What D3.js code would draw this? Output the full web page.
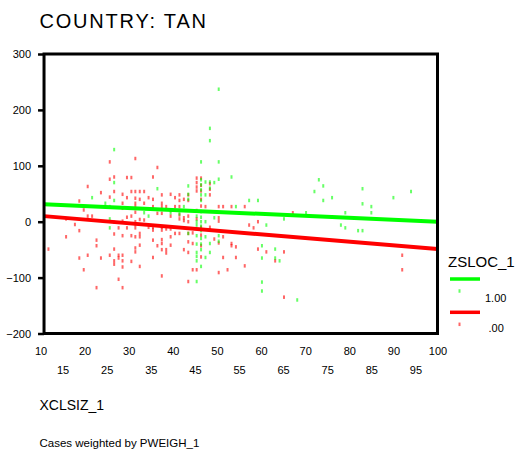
<!DOCTYPE html>
<meta charset="utf-8">
<style>
    body { margin: 0; background: #fff; }
    svg { display: block; font-family: Arial, "Liberation Sans", sans-serif; }
    .axis text { font-size: 11px; fill: #000; }
    .axis .domain { display: none; }
    .yaxis line { stroke: #000; stroke-width: 2.5px; }
</style>
<body>
<svg id="chart" width="518" height="452"></svg>
</body>
<script src="https://d3js.org/d3.v7.min.js"></script>
<script>

    // ZSLOC_1 = 1.00 (green) and .00 (red), [XCLSIZ_1, residual]
    var greenPoints = [
        [21.7, 43], [24.7, 33], [25.7, 27], [25.7, 5], [25.7, -11],
        [26.7, 129], [26.7, 70], [26.7, 38], [33.5, 16], [34.5, 10],
        [36.5, 59], [39.5, 16], [41.5, 14], [42.5, 27],
        [43.5, 64], [43.5, 49], [43.5, 40], [43.5, -21],
        [45.4, 10], [45.4, 0], [45.4, -6], [45.4, -25], [45.4, -40], [45.4, -55],
        [45.4, -62], [45.4, -70], [45.4, -107],
        [46.4, 107], [46.4, 75], [46.4, 66], [46.4, 57], [46.4, 48], [46.4, 38],
        [46.4, 18], [46.4, 8], [46.4, 0], [46.4, -8], [46.4, -16], [46.4, -30],
        [46.4, -40], [46.4, -50], [46.4, -80],
        [47.4, 71], [47.4, 48], [47.4, 0], [47.4, -27], [47.4, -64],
        [48.4, 167], [48.4, 145], [48.4, 71], [48.4, 60], [48.4, -39], [48.4, -55],
        [49.4, 70], [49.4, 7],
        [50.4, 237], [50.4, 107], [50.4, 76], [50.4, -25], [50.4, -35],
        [53.3, 80], [54.3, 27], [57.3, 38], [59.3, 38],
        [60.2, -43], [60.2, -65], [60.2, -108], [60.2, -124], [61.2, -6],
        [63.2, -49], [63.2, -65], [64.2, -70], [65.2, 5], [68.2, -140],
        [70.2, 16], [72.1, 54], [73.1, 75], [74.1, 64], [74.1, 38], [76.1, 43],
        [78.1, -6], [79.1, 16], [79.1, -11], [82, -16], [83, -16], [83, 59], [83, 32],
        [85, 27], [85, 16], [90, 43], [94, 54]
    ];

    var redPoints = [
        [11.8, -49], [15.8, 5], [15.8, -27], [17.8, -5],
        [18.8, 37], [18.8, -16], [18.8, -65], [19.8, 21], [19.8, -86],
        [20.7, 63], [20.7, 10], [20.7, -60], [21.7, 10],
        [22.7, -33], [22.7, -43], [22.7, -118], [23.7, 52], [23.7, -65],
        [25.7, 107], [25.7, 76], [25.7, 44], [25.7, -60],
        [26.7, 80], [26.7, 54], [26.7, -1], [26.7, -22], [26.7, -49], [26.7, -70], [26.7, -76],
        [27.7, -11], [27.7, -60], [27.7, -65], [27.7, -103],
        [28.6, 49], [28.6, 33], [28.6, 24], [28.6, 1], [28.6, -25], [28.6, -60],
        [28.6, -70], [28.6, -81], [28.6, -118],
        [29.6, 79], [29.6, 43], [29.6, 8], [29.6, -11],
        [30.6, 79], [30.6, 54], [30.6, 10], [30.6, -25], [30.6, -71],
        [31.5, 113], [31.5, 54], [31.5, 42], [31.5, 33], [31.5, 27], [31.5, 17],
        [31.5, 0], [31.5, -5], [31.5, -11], [31.5, -27], [31.5, -47], [31.5, -54],
        [32.5, 54], [32.5, 40], [32.5, 4], [32.5, -21], [32.5, -27], [32.5, -42], [32.5, -80],
        [33.5, 54], [33.5, 33], [33.5, 3], [34.5, 43], [34.5, -10],
        [35.5, 80], [35.5, 40], [35.5, 27], [35.5, -10], [35.5, -15], [35.5, -33], [35.5, -64],
        [36.5, 97], [36.5, 15], [36.5, -43],
        [37.5, 48], [37.5, 33], [37.5, 27], [37.5, 15], [37.5, -10], [37.5, -15],
        [37.5, -32], [37.5, -39], [37.5, -50], [37.5, -97],
        [38.5, 27], [38.5, -13], [38.5, -50], [38.5, -56],
        [39.5, 49], [39.5, 20], [39.5, 10], [39.5, -13], [39.5, -27], [39.5, -42],
        [40.5, 43], [40.5, 27], [40.5, -21],
        [41.5, 48], [41.5, 38], [41.5, 27], [41.5, 12], [41.5, 5], [41.5, -21],
        [42.5, 40], [42.5, 7], [42.5, 2], [42.5, -50],
        [43.5, 48], [43.5, 38], [43.5, 10], [43.5, 0], [43.5, -21], [43.5, -36], [43.5, -55], [43.5, -107],
        [44.5, -20], [44.5, -39], [44.5, -86],
        [45.4, 78], [45.4, 70], [45.4, 62], [45.4, 55], [45.4, 20], [45.4, 5], [45.4, -86],
        [46.4, 78], [46.4, 65], [46.4, 55], [46.4, 40], [46.4, 28], [46.4, -10],
        [46.4, -24], [46.4, -43], [46.4, -63],
        [47.4, 27], [48.4, 68], [48.4, 58], [48.4, 48], [48.4, -10], [48.4, -15], [49.4, -31],
        [50.4, 27], [50.4, 7], [50.4, 1], [50.4, -38], [50.4, -91],
        [51.4, 27], [51.4, -27], [51.4, -64], [52.4, -86],
        [53.3, 27], [53.3, -39], [53.3, -43], [54.3, -45], [54.3, -64],
        [56.3, 27], [56.3, -79], [57.3, -6], [58.3, -11], [59.3, 0], [59.3, -49],
        [61.2, -54], [63.2, -70], [65.2, -54], [65.2, -135], [67.2, 16],
        [92, -60], [92, -86]
    ];

    // fit lines: [slope, intercept]
    var greenFit = [-0.348, 34.8];
    var redFit = [-0.661, 17.1];
    var xStart = 10.8, xEnd = 100;

    var xTicksMajor = [10, 20, 30, 40, 50, 60, 70, 80, 90, 100];
    var xTicksMinor = [15, 25, 35, 45, 55, 65, 75, 85, 95];
    var yTicks = [-200, -100, 0, 100, 200, 300];

    var svg = d3.select("#chart");

    var x = d3.scaleLinear().domain([10, 100]).range([40.5, 437.5]);
    var y = d3.scaleLinear().domain([-200, 300]).range([333.5, 54]);

    // title
    svg.append("text")
        .attr("x", 39.5).attr("y", 27.7)
        .style("font-size", "20px").style("letter-spacing", "1.8px")
        .text("COUNTRY: TAN");

    // points
    function drawPoints(data, color) {
        svg.append("g").selectAll("rect")
            .data(data).enter().append("rect")
            .attr("x", function (d) { return x(d[0]) - 1; })
            .attr("y", function (d) { return y(d[1]) - 1.75; })
            .attr("width", 2).attr("height", 3.5)
            .attr("fill", color).attr("fill-opacity", 0.6);
    }
    drawPoints(redPoints, "#ff0000");
    drawPoints(greenPoints, "#00ff00");

    function drawFit(fit, color) {
        svg.append("line")
            .attr("x1", x(xStart)).attr("y1", y(fit[0] * xStart + fit[1]))
            .attr("x2", x(xEnd)).attr("y2", y(fit[0] * xEnd + fit[1]))
            .attr("stroke", color).attr("stroke-width", 4);
    }
    drawFit(greenFit, "#00ff00");
    drawFit(redFit, "#ff0000");

    // frame
    svg.append("rect")
        .attr("x", x(xStart)).attr("y", y(300))
        .attr("width", x(xEnd) - x(xStart)).attr("height", y(-200) - y(300))
        .attr("fill", "none").attr("stroke", "#000").attr("stroke-width", 3);

    svg.append("g")
        .attr("class", "axis yaxis")
        .attr("transform", "translate(" + x(xStart) + ",0)")
        .call(d3.axisLeft(y).tickValues(yTicks).tickSize(6).tickPadding(7).tickFormat(d3.format("d")));

    svg.append("g")
        .attr("class", "axis")
        .attr("transform", "translate(0," + y(-200) + ")")
        .call(d3.axisBottom(x).tickValues(xTicksMajor).tickSize(0).tickPadding(14));

    svg.append("g")
        .attr("class", "axis")
        .attr("transform", "translate(0," + y(-200) + ")")
        .call(d3.axisBottom(x).tickValues(xTicksMinor).tickSize(0).tickPadding(32.5));

    svg.selectAll(".axis .tick line").filter(function () { return !this.closest(".yaxis"); }).remove();

    // axis title and footnote
    svg.append("text")
        .attr("x", 39.5).attr("y", 409.5)
        .style("font-size", "14px")
        .text("XCLSIZ_1");

    svg.append("text")
        .attr("x", 39.5).attr("y", 446.5)
        .style("font-size", "11.5px")
        .text("Cases weighted by PWEIGH_1");

    // legend
    var legend = svg.append("g");
    legend.append("text")
        .attr("x", 448).attr("y", 266.7)
        .style("font-size", "15px")
        .text("ZSLOC_1");

    var legendItems = [
        { label: "1.00", color: "#00ff00", lineY: 279, markY: 291, textX: 485, textY: 302.3 },
        { label: ".00", color: "#ff0000", lineY: 312.3, markY: 324.3, textX: 488.5, textY: 331.7 }
    ];
    legendItems.forEach(function (d) {
        legend.append("line")
            .attr("x1", 450).attr("x2", 480)
            .attr("y1", d.lineY).attr("y2", d.lineY)
            .attr("stroke", d.color).attr("stroke-width", 3.5);
        legend.append("rect")
            .attr("x", 458.5).attr("y", d.markY - 1.75)
            .attr("width", 2).attr("height", 3.5)
            .attr("fill", d.color).attr("fill-opacity", 0.6);
        legend.append("text")
            .attr("x", d.textX).attr("y", d.textY)
            .style("font-size", "11px")
            .text(d.label);
    });

</script>
